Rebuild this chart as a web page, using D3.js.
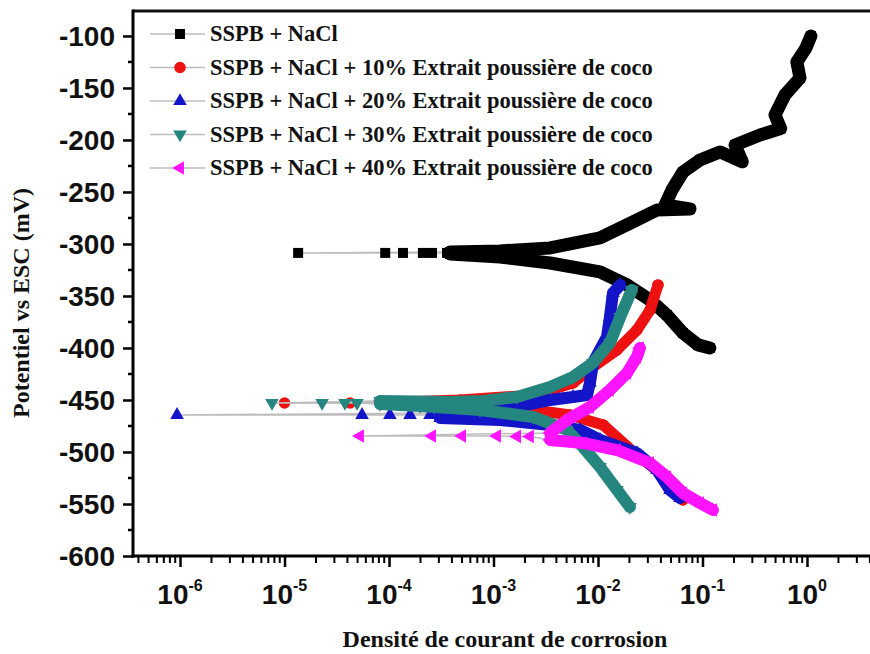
<!DOCTYPE html>
<html><head><meta charset="utf-8">
<script src="https://cdn.jsdelivr.net/npm/d3@7"></script>
<style>
body{margin:0;background:#fff;}
svg{display:block;}
</style></head><body>
<svg id="c" width="870" height="654"></svg>
<script>
// ---------- data ----------
const seriesNames = [
  "SSPB + NaCl",
  "SSPB + NaCl + 10% Extrait poussière de coco",
  "SSPB + NaCl + 20% Extrait poussière de coco",
  "SSPB + NaCl + 30% Extrait poussière de coco",
  "SSPB + NaCl + 40% Extrait poussière de coco"
];
const yTickValues = [-600,-550,-500,-450,-400,-350,-300,-250,-200,-150,-100];
const xTickExponents = [-6,-5,-4,-3,-2,-1,0];

// [current density, potential (mV)]  — cathodic branch, sparse points near Ecorr, anodic branch
const blackCathodic = [[0.1175,-400],[0.0906,-397],[0.065,-385.6],[0.0457,-368.3],[0.0315,-353.8],[0.019,-339.4],[0.01045,-326.9],[0.00348,-318.3],[0.00115,-312.5],[3.84e-4,-309.6]];
const blackSparse = [[3.59e-4,-308.6],[2.58e-4,-308.6],[2.11e-4,-308.6],[1.36e-4,-308.6],[9.2e-5,-308.6],[1.35e-5,-308.6]];
const blackAnodic = [[3.84e-4,-307.7],[0.00115,-306.7],[0.00348,-303.8],[0.01045,-294.2],[0.0216,-278.8],[0.0367,-267.3],[0.0759,-266.3],[0.0438,-262.5],[0.051,-248.1],[0.065,-230.8],[0.0946,-219.2],[0.147,-211.5],[0.24,-221],[0.205,-204.8],[0.355,-195.2],[0.56,-189],[0.494,-176],[0.615,-156.7],[0.857,-140.4],[0.80,-125],[0.977,-111.5],[1.09,-100]];

const redCathodic = [[0.065,-546.1],[0.0489,-536.5],[0.0367,-517.3],[0.0236,-502.9],[0.0112,-474],[0.0054,-464.4],[0.0018,-457.7],[4.78e-4,-454.8],[1.27e-4,-453.8]];
const redSparse = [[4.24e-5,-452.9],[1.0e-5,-452.9]];
const redAnodic = [[1.27e-4,-451.9],[4.78e-4,-450],[0.0018,-446.1],[0.00348,-440.4],[0.00577,-433.6],[0.00895,-418.3],[0.0152,-401.9],[0.0236,-382.7],[0.0315,-363.5],[0.0375,-339.4]];

const blueCathodic = [[0.061,-544.2],[0.0489,-536.5],[0.0367,-517.3],[0.0236,-501],[0.01045,-488.4],[0.00673,-478.8],[0.00348,-474],[0.00115,-469.2],[3.08e-4,-467.3]];
const blueSparse = [[2.47e-4,-464.4],[1.59e-4,-464.4],[1.02e-4,-464.4],[5.52e-5,-464.4],[9.36e-7,-464.4]];
const blueAnodic = [[3.08e-4,-462.5],[0.00168,-456.7],[0.00348,-450],[0.00577,-447.1],[0.00785,-445.2],[0.00838,-433.6],[0.00895,-414.4],[0.0122,-389.4],[0.013,-370.2],[0.0139,-347.1],[0.0163,-339.4]];

const tealCathodic = [[0.0202,-552.9],[0.0152,-536.5],[0.01045,-514.4],[0.00718,-495.2],[0.00505,-478.8],[0.00239,-466.3],[7.43e-4,-459.6],[1.98e-4,-455.8],[8.2e-5,-453.8]];
const tealSparse = [[4.94e-5,-452.9],[3.79e-5,-452.9],[2.29e-5,-452.9],[7.59e-6,-452.9]];
const tealAnodic = [[8.2e-5,-450.9],[3.84e-4,-451.9],[7.94e-4,-451],[0.00168,-447.1],[0.00348,-437.5],[0.00577,-427.9],[0.00895,-414.4],[0.013,-395.2],[0.0163,-370.2],[0.0211,-344.2]];

const magentaCathodic = [[0.126,-555.8],[0.0946,-549],[0.065,-539.4],[0.0457,-524],[0.0315,-510.6],[0.0152,-498.1],[0.00718,-491.3],[0.00348,-488.4]];
const magentaSparse = [[0.00223,-485],[0.00168,-485],[0.00108,-484.6],[5.0e-4,-484.6],[2.58e-4,-484.6],[5.27e-5,-484.6]];
const magentaAnodic = [[0.00348,-481.7],[0.00505,-469.2],[0.00838,-456.7],[0.013,-440.4],[0.019,-424],[0.0236,-408.6],[0.0252,-400]];

// ---------- styling ----------
const seriesColors = ["#000000","#ee1111","#1414c8","#25857f","#ff14ff"];
const seriesShapes = ["square","circle","up","down","left"];
const series = [
  {cath:blackCathodic, sparse:blackSparse, anod:blackAnodic, w:13},
  {cath:redCathodic, sparse:redSparse, anod:redAnodic, w:11},
  {cath:blueCathodic, sparse:blueSparse, anod:blueAnodic, w:12},
  {cath:tealCathodic, sparse:tealSparse, anod:tealAnodic, w:12},
  {cath:magentaCathodic, sparse:magentaSparse, anod:magentaAnodic, w:12}
].map((s,i)=>Object.assign(s,{name:seriesNames[i],color:seriesColors[i],shape:seriesShapes[i]}));

const W=870,H=654, L=133, T=11, B=556, R=870;
const svg = d3.select('#c');
svg.append('rect').attr('width',W).attr('height',H).attr('fill','#fff');

const x = d3.scaleLog().domain([Math.pow(10,-6.45), Math.pow(10,0.603)]).range([L,R]);
const y = d3.scaleLinear().domain([-600,-76]).range([B,T]);

svg.append('defs').append('clipPath').attr('id','clip')
  .append('rect').attr('x',L).attr('y',T).attr('width',R-L).attr('height',B-T);

function drawMarker(g, shape, cx, cy, color){
  let sym, rot=0, size;
  if(shape==='square'){sym=d3.symbolSquare; size=100;}
  else if(shape==='circle'){sym=d3.symbolCircle; size=105;}
  else {sym=d3.symbolTriangle; size=80;
    rot = shape==='up'?0:(shape==='down'?180:-90);}
  g.append('path').attr('d', d3.symbol().type(sym).size(size)())
   .attr('transform',`translate(${cx},${cy}) rotate(${rot})`)
   .attr('fill',color);
}

const line = d3.line().x(d=>x(d[0])).y(d=>y(d[1]));
const plot = svg.append('g').attr('clip-path','url(#clip)');

series.forEach(s=>{
  const all = s.cath.concat(s.sparse, s.anod);
  plot.append('path').attr('d', line(all)).attr('fill','none')
    .attr('stroke','#bdbdbd').attr('stroke-width',1.5);
  [s.cath, s.anod].forEach(b=>{
    plot.append('path').attr('d', line(b)).attr('fill','none')
      .attr('stroke', s.color).attr('stroke-width', s.w)
      .attr('stroke-linejoin','round').attr('stroke-linecap','round');
  });
  all.forEach(p=>drawMarker(plot, s.shape, x(p[0]), y(p[1]), s.color));
});

// ---------- axes ----------
const axisG = svg.append('g');
const yAxis = d3.axisLeft(y).tickValues(yTickValues).tickSize(10).tickFormat(d=>d.toString());
const yg = axisG.append('g').attr('transform',`translate(${L},0)`).call(yAxis);
yg.select('.domain').remove();
yg.selectAll('.tick line').attr('stroke','#000').attr('stroke-width',2.5);
yg.selectAll('.tick text').attr('x',-18).attr('dy','0.34em')
  .style('font-family','"Liberation Sans", Arial, sans-serif')
  .style('font-weight','bold').style('font-size','28px').attr('fill','#111');
const yMinor = d3.range(-575,-76,50);
axisG.selectAll('.yminor').data(yMinor).enter().append('line')
  .attr('x1',L-5).attr('x2',L).attr('y1',d=>y(d)).attr('y2',d=>y(d))
  .attr('stroke','#000').attr('stroke-width',2.5);

const xMajor = xTickExponents.map(e=>Math.pow(10,e));
const xg = axisG.append('g').attr('transform',`translate(0,${B})`)
  .call(d3.axisBottom(x).tickValues(xMajor).tickSize(11).tickFormat(''));
xg.select('.domain').remove();
xg.selectAll('.tick line').attr('stroke','#000').attr('stroke-width',2.5);
const xMinor = [];
for(let e=-7;e<=0;e++){ for(let m=2;m<=9;m++){ const v=m*Math.pow(10,e); if(x(v)>L+2 && x(v)<R) xMinor.push(v);} }
axisG.selectAll('.xminor').data(xMinor).enter().append('line')
  .attr('x1',d=>x(d)).attr('x2',d=>x(d)).attr('y1',B).attr('y2',B+7)
  .attr('stroke','#000').attr('stroke-width',2);
const xl = axisG.selectAll('.xlab').data(xTickExponents).enter().append('text')
  .attr('x',d=>x(Math.pow(10,d))).attr('y',604).attr('text-anchor','middle')
  .style('font-family','"Liberation Sans", Arial, sans-serif')
  .style('font-weight','bold').style('font-size','28px').attr('fill','#111');
xl.append('tspan').text('10');
xl.append('tspan').attr('dy',-13).style('font-size','16px').text(d=>d===0?'0':'-'+Math.abs(d));

// frame
axisG.append('line').attr('x1',L).attr('x2',R).attr('y1',T).attr('y2',T).attr('stroke','#111').attr('stroke-width',3);
axisG.append('line').attr('x1',L).attr('x2',L).attr('y1',T-1.5).attr('y2',B+1.5).attr('stroke','#000').attr('stroke-width',3);
axisG.append('line').attr('x1',L-1.5).attr('x2',R).attr('y1',B).attr('y2',B).attr('stroke','#000').attr('stroke-width',3);

// axis titles
svg.append('text').attr('transform','translate(29,303) rotate(-90)').attr('text-anchor','middle')
  .style('font-family','"Liberation Serif", "Times New Roman", serif').style('font-weight','bold')
  .style('font-size','24px').attr('fill','#111').text('Potentiel vs ESC (mV)');
svg.append('text').attr('x',505).attr('y',647).attr('text-anchor','middle')
  .style('font-family','"Liberation Serif", "Times New Roman", serif').style('font-weight','bold')
  .style('font-size','24px').attr('fill','#111').text('Densité de courant de corrosion');

// legend
const lg = svg.append('g');
series.forEach((s,i)=>{
  const ly = 34 + i*33.5;
  lg.append('line').attr('x1',150).attr('x2',205).attr('y1',ly).attr('y2',ly).attr('stroke','#bdbdbd').attr('stroke-width',1.5);
  drawMarker(lg, s.shape, 180, ly, s.color);
  lg.append('text').attr('x',210).attr('y',ly+7)
    .style('font-family','"Liberation Serif", "Times New Roman", serif').style('font-weight','bold')
    .style('font-size','22.5px').attr('fill','#111').text(s.name);
});
</script>
</body></html>
